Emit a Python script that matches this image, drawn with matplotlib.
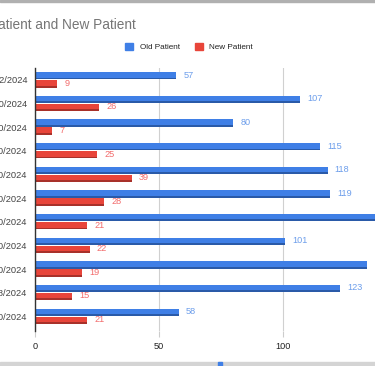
import numpy as np
import matplotlib.pyplot as plt
from matplotlib.patches import Patch, Rectangle

plt.rcParams['font.family'] = ['Liberation Sans', 'DejaVu Sans']

# data
dates = ['12/22/2024', '11/30/2024', '10/30/2024', '9/30/2024', '8/30/2024', '7/30/2024',
         '6/30/2024', '5/30/2024', '4/30/2024', '3/28/2024', '2/30/2024']
old_patient = [57, 107, 80, 115, 118, 119, 142, 101, 134, 123, 58]
new_patient = [9, 26, 7, 25, 39, 28, 21, 22, 19, 15, 21]

blue = '#3f7fe6'
blue_dark = '#2a5aa8'
red = '#e8453a'
red_dark = '#a8312a'
W, H = 375, 366

fig = plt.figure(figsize=(W / 100, H / 100), dpi=100)
ax = fig.add_axes([35 / W, 1 - 331 / H, 1 - 35 / W, (331 - 68) / H])

y = np.arange(len(dates))
h = 0.31
off = 0.17

# "3D" bars: darker base, lighter face on top
ax.barh(y - off, old_patient, height=h, color=blue_dark, zorder=2)
ax.barh(y - off - 0.04, old_patient, height=h - 0.08, color=blue, zorder=3)
ax.barh(y + off, new_patient, height=h, color=red_dark, zorder=2)
ax.barh(y + off - 0.04, new_patient, height=h - 0.08, color=red, zorder=3)

for i in range(len(dates)):
    ax.text(old_patient[i] + 2.9, y[i] - off - 0.03, str(old_patient[i]), color='#6d9eeb',
            fontsize=6.6, va='center', ha='left')
    ax.text(new_patient[i] + 2.9, y[i] + off - 0.03, str(new_patient[i]), color='#f26b6b',
            fontsize=6.6, va='center', ha='left')

ax.set_xlim(0, (W - 35) / 2.48)
ax.set_ylim(10.62, -0.5)
ax.set_xticks([0, 50, 100])
ax.set_yticks(y)
ax.set_yticklabels(dates)
ax.tick_params(axis='y', length=0, pad=5.5, labelsize=6.7, labelcolor='#444444')
ax.tick_params(axis='x', length=4, color='#cccccc', pad=4, labelsize=6.6, labelcolor='#222222')
ax.grid(axis='x', color='#d0d0d0', linewidth=0.8, zorder=0)
for s in ['top', 'right', 'bottom']:
    ax.spines[s].set_visible(False)
ax.spines['left'].set_color('#333333')
ax.spines['left'].set_linewidth(1)
ax.spines['left'].set_zorder(4)

fig.text(136 / W, 1 - 25 / H, 'Old Patient and New Patient', ha='right', va='center',
         fontsize=9.8, color='#757575')

handles = [Patch(color=blue, label='Old Patient'), Patch(color=red, label='New Patient')]
fig.legend(handles=handles, loc='center', bbox_to_anchor=(189 / W, 1 - 47 / H), ncol=2,
           frameon=False, fontsize=5.9, handlelength=1.0, handleheight=1.0,
           handletextpad=0.8, columnspacing=1.8, labelcolor='#222222')

# frame strips of the screenshot
fig.patches.append(Rectangle((0, 1 - 2 / H), 1, 2 / H, transform=fig.transFigure,
                             color='#b0b0b0', zorder=0))
fig.patches.append(Rectangle((0, 0), 1, 4 / H, transform=fig.transFigure,
                             color='#d4d4d4', zorder=0))
fig.patches.append(Rectangle((218 / W, 0), 4 / W, 4 / H, transform=fig.transFigure,
                             color='#3f7fe6', zorder=1))

fig.savefig('out.png', dpi=100)
